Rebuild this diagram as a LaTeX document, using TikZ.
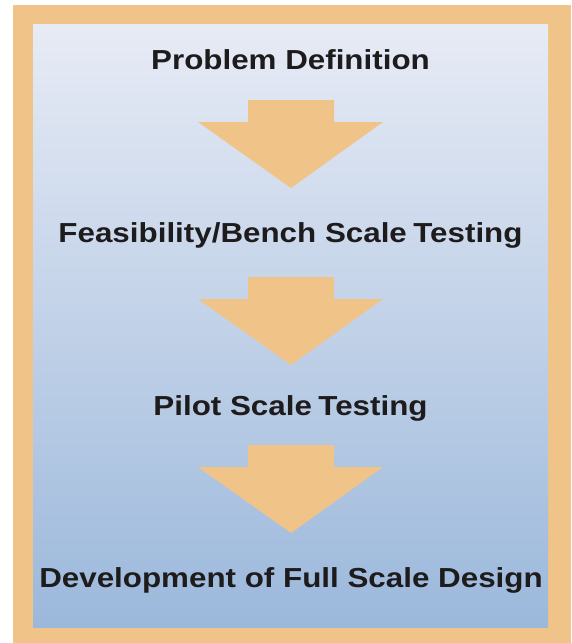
\documentclass[tikz,border=0pt]{standalone}
\usepackage{fontspec}
\usepackage{graphicx}
\setmainfont{Liberation Sans}
\definecolor{frameorange}{RGB}{240,196,136}
\definecolor{bluetop}{RGB}{231,235,245}
\definecolor{bluebot}{RGB}{155,184,219}
\definecolor{txt}{RGB}{30,27,28}
\begin{document}
\begin{tikzpicture}[x=1pt,y=-1pt,
  label/.style={anchor=base,inner sep=0pt,text=txt,font=\fontsize{27.5}{27.5}\selectfont\bfseries},
  blockarrow/.style={fill=frameorange,draw=none}]
\useasboundingbox (0,0) rectangle (571,643);
\fill[frameorange] (13.3,5.3) rectangle (571,643);
\shade[top color=bluetop,bottom color=bluebot] (33,24) rectangle (548,627);
\foreach \t in {100,277,445}{
  \fill[blockarrow] (248,\t) -- (334,\t) -- (334,\t+22) -- (383,\t+22) -- (291,\t+88)
     -- (198,\t+22) -- (248,\t+22) -- cycle;
}
\node[label] (p1) at (290.5,69.5) {\scalebox{1.14}[1]{Problem Definition}};
\node[label] (p2) at (290.5,242.5) {\scalebox{1.14}[1]{Feasibility/Bench Scale\kern-2pt\ Testing}};
\node[label] (p3) at (290.5,415.5) {\scalebox{1.14}[1]{Pilot Scale\kern-2pt\ Testing}};
\node[label] (p4) at (291,587.5) {\scalebox{1.14}[1]{Development of Full Scale Design}};
\end{tikzpicture}
\end{document}
